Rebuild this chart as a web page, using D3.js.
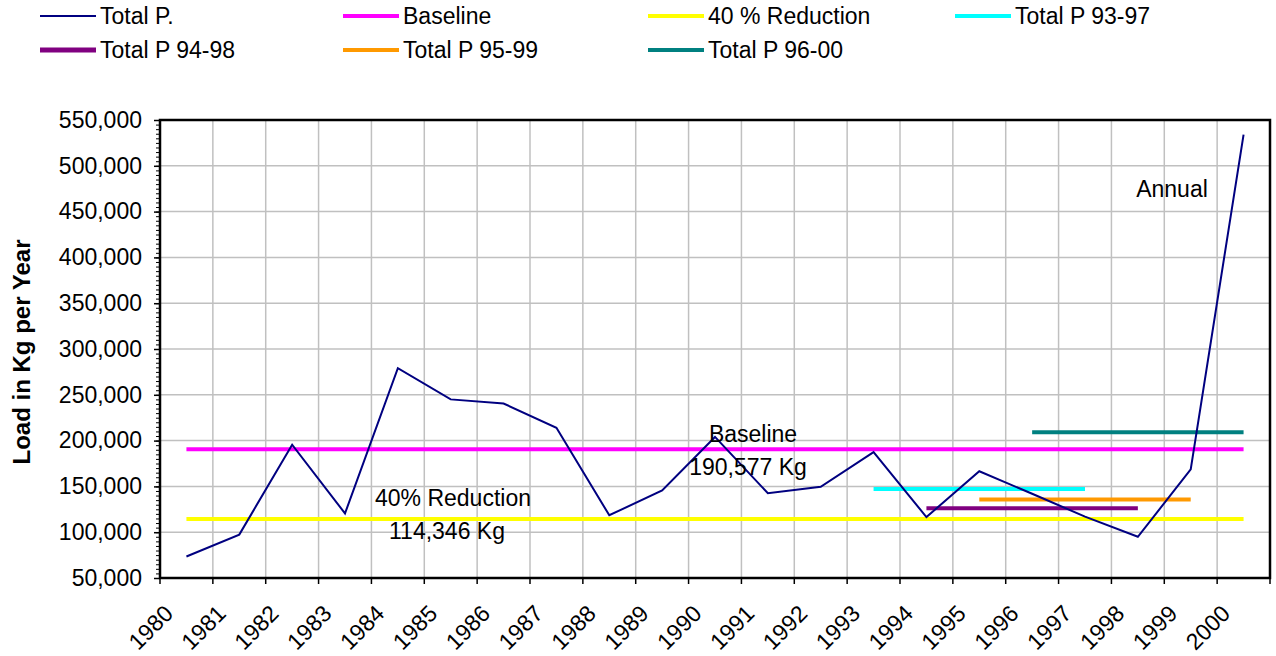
<!DOCTYPE html>
<html lang="en">
<head>
    <meta charset="UTF-8">
    <title>Total P load</title>
    <script src="https://d3js.org/d3.v7.min.js"></script>
    <style>
        body { margin: 0; background: #fff; }
        svg { font-family: Arial, "Liberation Sans", sans-serif; }
        .grid line { stroke: #c0c0c0; stroke-width: 1.5px; }
        .ax text { font-size: 23px; fill: #000; }
    </style>
</head>
<body>
    <svg width="1276" height="656"></svg>
    <script>
        const years = ["1980","1981","1982","1983","1984","1985","1986","1987","1988","1989","1990",
                       "1991","1992","1993","1994","1995","1996","1997","1998","1999","2000"];
        const totalP = [73500, 97400, 195500, 120500, 279000, 245000, 240500, 214000, 118500, 145500, 204000,
                        142500, 149500, 187500, 116500, 166500, 142000, 117000, 95000, 168500, 534000];
        const baseline = 190577;
        const reduction = 114346;
        // rolling 5-year averages: [first year, last year, value]
        const p9397 = ["1993", "1997", 147200];
        const p9498 = ["1994", "1998", 126100];
        const p9599 = ["1995", "1999", 135600];
        const p9600 = ["1996", "2000", 209000];
        const yTicks = d3.range(50000, 550001, 50000);

        const pL = 160, pR = 1270, pT = 120, pB = 578;
        const fs = 23;
        const svg = d3.select("svg");

        const x = d3.scaleBand().domain(years).range([pL, pR]).padding(0);
        const y = d3.scaleLinear().domain([50000, 550000]).range([pB, pT]);
        const cx = yr => x(yr) + x.bandwidth() / 2;

        // gridlines
        const grid = svg.append("g").attr("class", "grid");
        grid.selectAll(".h").data(yTicks.slice(1, -1)).enter().append("line")
            .attr("x1", pL).attr("x2", pR).attr("y1", d => y(d)).attr("y2", d => y(d));
        grid.selectAll(".v").data(years.slice(1)).enter().append("line")
            .attr("x1", d => x(d)).attr("x2", d => x(d)).attr("y1", pT).attr("y2", pB);

        // y axis with minor ticks
        svg.append("g").attr("transform", `translate(${pL},0)`)
            .call(d3.axisLeft(y).tickValues(d3.range(50000, 550001, 5000)).tickSize(4).tickFormat(""))
            .call(g => g.select(".domain").remove())
            .call(g => g.selectAll("line").attr("stroke", "#000"));
        svg.append("g").attr("class", "ax").attr("transform", `translate(${pL},0)`)
            .call(d3.axisLeft(y).tickValues(yTicks).tickSize(6).tickPadding(12).tickFormat(d3.format(",")))
            .call(g => g.select(".domain").remove())
            .call(g => g.selectAll("line").attr("stroke", "#000").attr("stroke-width", 1.5))
            .call(g => g.selectAll("text").attr("font-size", fs));

        // x axis
        const xa = svg.append("g").attr("class", "ax").attr("transform", `translate(0,${pB})`);
        xa.selectAll("line").data(years.concat(["end"])).enter().append("line")
            .attr("x1", (d, i) => pL + i * x.bandwidth()).attr("x2", (d, i) => pL + i * x.bandwidth())
            .attr("y1", 0).attr("y2", 6).attr("stroke", "#000").attr("stroke-width", 1.5);
        xa.selectAll("text").data(years).enter().append("text")
            .attr("transform", d => `translate(${cx(d) - 12},${37}) rotate(-45)`)
            .attr("text-anchor", "end").attr("font-size", fs).text(d => d);

        // plot frame
        svg.append("rect").attr("x", pL).attr("y", pT).attr("width", pR - pL).attr("height", pB - pT)
            .attr("fill", "none").attr("stroke", "#000").attr("stroke-width", 2.5);

        // y title
        svg.append("text").attr("transform", `translate(30,${(pT + pB) / 2 + 3}) rotate(-90)`)
            .attr("text-anchor", "middle").attr("font-size", 24).attr("font-weight", "bold")
            .text("Load in Kg per Year");

        // horizontal reference lines
        const seg = (a, b, v, color) => svg.append("line")
            .attr("x1", cx(a)).attr("x2", cx(b)).attr("y1", y(v)).attr("y2", y(v))
            .attr("stroke", color).attr("stroke-width", 4);
        seg(years[0], years[years.length - 1], baseline, "#ff00ff");
        seg(years[0], years[years.length - 1], reduction, "#ffff00");
        seg(p9397[0], p9397[1], p9397[2], "#00ffff");
        seg(p9498[0], p9498[1], p9498[2], "#800080");
        seg(p9599[0], p9599[1], p9599[2], "#ff9900");
        seg(p9600[0], p9600[1], p9600[2], "#008080");

        // total P line
        svg.append("path").datum(totalP)
            .attr("fill", "none").attr("stroke", "#000080").attr("stroke-width", 2)
            .attr("d", d3.line().x((d, i) => cx(years[i])).y(d => y(d)));

        // annotations
        const note = (tx, ty, s) => svg.append("text").attr("x", tx).attr("y", ty)
            .attr("font-size", fs).attr("text-anchor", "middle").text(s);
        note(753, 442, "Baseline");
        note(748, 475, d3.format(",")(baseline) + " Kg");
        note(453, 506, "40% Reduction");
        note(447, 539, d3.format(",")(reduction) + " Kg");
        note(1172, 197, "Annual");

        // legend
        const legend = [
            { name: "Total P.", color: "#000080", w: 2, col: 0, row: 0 },
            { name: "Baseline", color: "#ff00ff", w: 4, col: 1, row: 0 },
            { name: "40 % Reduction", color: "#ffff00", w: 4, col: 2, row: 0 },
            { name: "Total P 93-97", color: "#00ffff", w: 4, col: 3, row: 0 },
            { name: "Total P 94-98", color: "#800080", w: 5, col: 0, row: 1 },
            { name: "Total P 95-99", color: "#ff9900", w: 4, col: 1, row: 1 },
            { name: "Total P 96-00", color: "#008080", w: 4, col: 2, row: 1 }
        ];
        const colX = [40, 343, 648, 955];
        const lg = svg.selectAll(".lg").data(legend).enter().append("g")
            .attr("transform", d => `translate(${colX[d.col]},${d.row === 0 ? 16 : 50})`);
        lg.append("line").attr("x1", 0).attr("x2", 56).attr("stroke", d => d.color).attr("stroke-width", d => d.w);
        lg.append("text").attr("x", 60).attr("y", 8).attr("font-size", fs).text(d => d.name);
    </script>
</body>
</html>
